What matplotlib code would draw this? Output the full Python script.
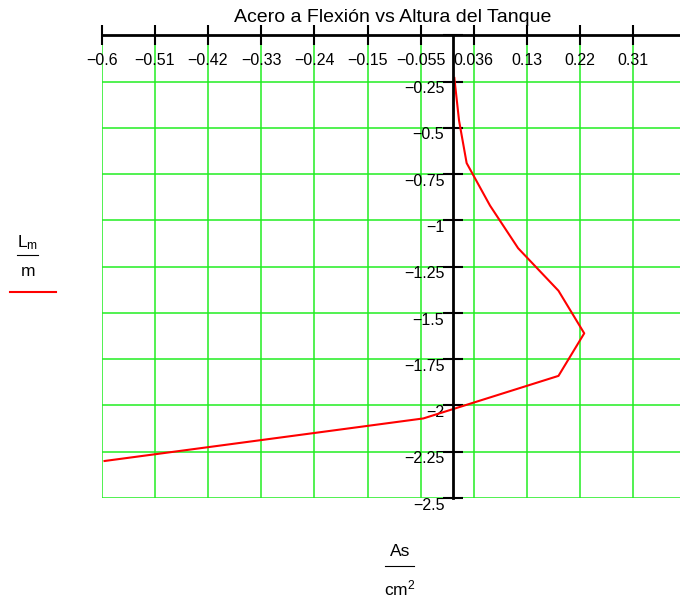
import matplotlib
matplotlib.use('Agg')
import matplotlib.pyplot as plt
import matplotlib.transforms as mtransforms
from matplotlib import font_manager
import numpy as np

names = set(f.name for f in font_manager.fontManager.ttflist)
narrow = 'Liberation Sans Narrow' if 'Liberation Sans Narrow' in names else 'Liberation Sans'
plt.rcParams['font.family'] = [narrow, 'DejaVu Sans']
plt.rcParams['mathtext.fontset'] = 'custom'
plt.rcParams['mathtext.rm'] = narrow

# As (cm^2) vs L (m)
L_m = [0.23, 0.46, 0.69, 0.92, 1.15, 1.38, 1.61, 1.84, 2.07, 2.30]
As_cm2 = [0.003, 0.011, 0.024, 0.064, 0.112, 0.181, 0.225, 0.181, -0.050, -0.595]

xtick_vals = [-0.6 + k / 11.0 for k in range(12)]
xtick_labels = ['\u22120.6', '\u22120.51', '\u22120.42', '\u22120.33', '\u22120.24',
                '\u22120.15', '\u22120.055', '0.036', '0.13', '0.22', '0.31', '']
ytick_vals = [0.0, 0.25, 0.5, 0.75, 1.0, 1.25, 1.5, 1.75, 2.0, 2.25, 2.5]
ytick_labels = ['', '\u22120.25', '\u22120.5', '\u22120.75', '\u22121', '\u22121.25',
                '\u22121.5', '\u22121.75', '\u22122', '\u22122.25', '\u22122.5']

W, H = 680, 605
fig = plt.figure(figsize=(W / 100, H / 100), dpi=100)
fs = 12 if narrow != 'Liberation Sans' else 11.5

# axes in pixel terms: x -0.6..0.4 -> 101.6..686.6, y 0..2.5 -> 35.4..498
left, right, top, bottom = 101.6, 686.6, 35.4, 498.0
ax = fig.add_axes([left / W, 1 - bottom / H, (right - left) / W, (bottom - top) / H])
ax.set_xlim(-0.6, 0.4)
ax.set_ylim(2.5, 0)

ax.set_axisbelow(True)
ax.grid(True, color='#22ee22', linewidth=1.1)

for s in ['right', 'bottom']:
    ax.spines[s].set_visible(False)
ax.spines['left'].set_position(('data', 0))
ax.spines['left'].set_linewidth(2)
ax.spines['top'].set_linewidth(2)

ax.xaxis.tick_top()
ax.set_xticks(xtick_vals)
ax.set_xticklabels(xtick_labels)
ax.set_yticks(ytick_vals)
ax.set_yticklabels(ytick_labels)
ax.tick_params(axis='both', direction='inout', length=14, width=1.5, color='black',
               labelsize=fs, colors='black')
ax.tick_params(axis='x', pad=0)
ax.tick_params(axis='y', pad=-1)

# x labels sit below the top axis line, y labels a bit under their tick
dx = mtransforms.ScaledTranslation(0, -30.5 / 72, fig.dpi_scale_trans)
for lab in ax.get_xticklabels():
    lab.set_transform(lab.get_transform() + dx)
dy = mtransforms.ScaledTranslation(0, -4 / 72, fig.dpi_scale_trans)
for lab in ax.get_yticklabels():
    lab.set_transform(lab.get_transform() + dy)

ax.plot(As_cm2, L_m, color='red', linewidth=1.5, clip_on=False)

fig.text(393 / W, 1 - 18 / H, 'Acero a Flexi\u00f3n vs Altura del Tanque',
         ha='center', va='center', fontsize=14)

# y legend: L_m / m
fig.text(28 / W, 1 - 243 / H, r'$\mathregular{L_m}$', ha='center', va='center', fontsize=fs + 1)
fig.add_artist(plt.Line2D([17 / W, 38 / W], [1 - 255 / H, 1 - 255 / H], color='black', linewidth=0.8))
fig.text(28 / W, 1 - 271 / H, 'm', ha='center', va='center', fontsize=fs + 1)
fig.add_artist(plt.Line2D([10 / W, 56 / W], [1 - 292 / H, 1 - 292 / H], color='red', linewidth=1.5))

# x legend: As / cm^2
fig.text(400 / W, 1 - 552 / H, 'As', ha='center', va='center', fontsize=fs + 1)
fig.add_artist(plt.Line2D([385 / W, 414 / W], [1 - 566 / H, 1 - 566 / H], color='black', linewidth=0.8))
fig.text(400 / W, 1 - 588 / H, r'$\mathregular{cm^2}$', ha='center', va='center', fontsize=fs + 1)

fig.savefig('out.png', dpi=100)
